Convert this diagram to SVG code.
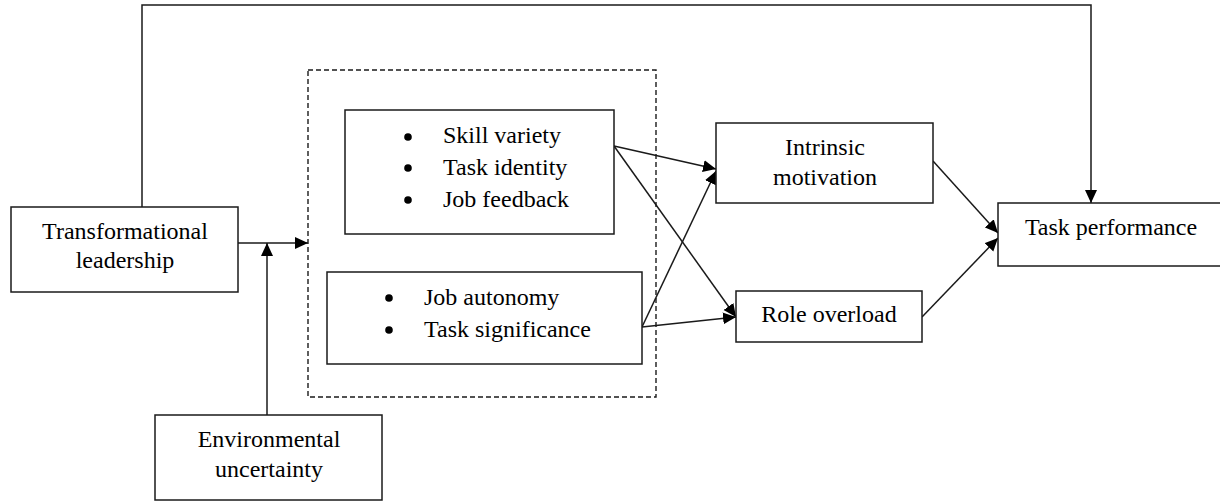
<svg xmlns="http://www.w3.org/2000/svg" width="1220" height="501" viewBox="0 0 1220 501">
<defs>
<marker id="ah" markerUnits="userSpaceOnUse" markerWidth="14" markerHeight="13" refX="13" refY="6" orient="auto">
<path d="M0,0 L13,6 L0,12 z" fill="#000"/>
</marker>
<style>
.box{fill:#fff;stroke:#1a1a1a;stroke-width:1.5}
.dash{fill:none;stroke:#1a1a1a;stroke-width:1.4;stroke-dasharray:5,3}
.t{font-family:"Liberation Serif","Times New Roman",serif;font-size:24px;fill:#000}
.c{text-anchor:middle}
.ln{fill:none;stroke:#1a1a1a;stroke-width:1.5}
.dot{fill:#000}
</style>
</defs>
<rect width="1220" height="501" fill="#fff"/>
<g id="connectors">
<polyline class="ln" points="142,207 142,5 1091,5 1091,203" marker-end="url(#ah)"/>
<line class="ln" x1="238" y1="243" x2="308" y2="243" marker-end="url(#ah)"/>
<line class="ln" x1="267" y1="415" x2="267" y2="243" marker-end="url(#ah)"/>
<line class="ln" x1="614" y1="146" x2="716" y2="169" marker-end="url(#ah)"/>
<line class="ln" x1="614" y1="146" x2="736" y2="317" marker-end="url(#ah)"/>
<line class="ln" x1="642" y1="327" x2="716" y2="171" marker-end="url(#ah)"/>
<line class="ln" x1="642" y1="327" x2="736" y2="317" marker-end="url(#ah)"/>
<line class="ln" x1="933" y1="161" x2="998" y2="233" marker-end="url(#ah)"/>
<line class="ln" x1="922" y1="317" x2="998" y2="238" marker-end="url(#ah)"/>
</g>
<g id="group-box">
<rect class="dash" x="308" y="70" width="348" height="327"/>
</g>
<g id="transformational-leadership">
<rect class="box" x="11" y="207" width="227" height="85"/>
<text class="t c" x="125" y="239">Transformational</text>
<text class="t c" x="125" y="268">leadership</text>
</g>
<g id="environmental-uncertainty">
<rect class="box" x="155" y="415" width="227" height="85"/>
<text class="t c" x="269" y="447">Environmental</text>
<text class="t c" x="269" y="477">uncertainty</text>
</g>
<g id="job-characteristics-1">
<rect class="box" x="345" y="110" width="269" height="124"/>
<circle class="dot" cx="408" cy="137" r="3.8"/>
<circle class="dot" cx="408" cy="168" r="3.8"/>
<circle class="dot" cx="408" cy="200" r="3.8"/>
<text class="t" x="443" y="143">Skill variety</text>
<text class="t" x="443" y="175">Task identity</text>
<text class="t" x="443" y="207">Job feedback</text>
</g>
<g id="job-characteristics-2">
<rect class="box" x="327" y="272" width="315" height="92"/>
<circle class="dot" cx="389" cy="298" r="3.8"/>
<circle class="dot" cx="389" cy="330" r="3.8"/>
<text class="t" x="424" y="305">Job autonomy</text>
<text class="t" x="424" y="337">Task significance</text>
</g>
<g id="intrinsic-motivation">
<rect class="box" x="716" y="123" width="217" height="80"/>
<text class="t c" x="825" y="155">Intrinsic</text>
<text class="t c" x="825" y="185">motivation</text>
</g>
<g id="role-overload">
<rect class="box" x="736" y="291" width="186" height="51"/>
<text class="t c" x="829" y="322">Role overload</text>
</g>
<g id="task-performance">
<rect class="box" x="998" y="203" width="230" height="63"/>
<text class="t c" x="1111" y="235">Task performance</text>
</g>
</svg>
